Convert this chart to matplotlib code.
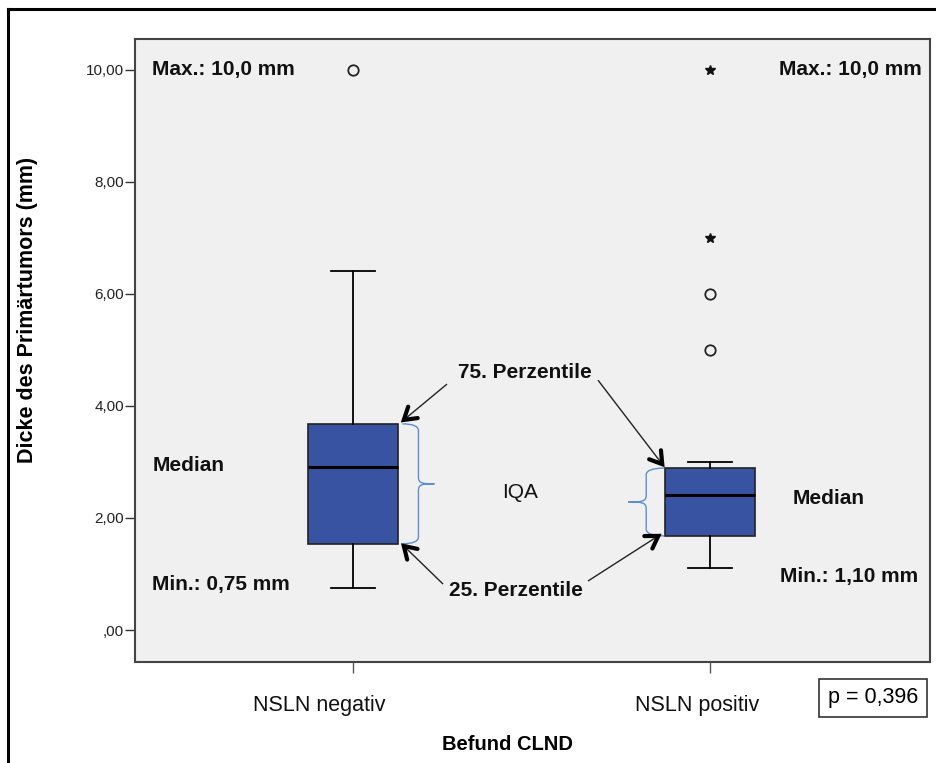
import matplotlib
matplotlib.use("Agg")
import numpy as np
import matplotlib.pyplot as plt
from matplotlib.path import Path
from matplotlib.patches import PathPatch
from matplotlib.lines import Line2D
from matplotlib.transforms import ScaledTranslation

plt.rcParams['font.family'] = ['Liberation Sans', 'DejaVu Sans']

# ---------------- data ----------------
categories = ["NSLN negativ", "NSLN positiv"]
q1 = [1.54, 1.68]
median = [2.91, 2.41]
q3 = [3.68, 2.89]
whisker_low = [0.75, 1.10]
whisker_high = [6.41, 3.00]
outliers_circle = [[10.0], [6.0, 5.0]]
outliers_star = [[], [10.0, 7.0]]
yticks = [0, 2, 4, 6, 8, 10]
ytick_labels = [",00", "2,00", "4,00", "6,00", "8,00", "10,00"]
p_text = "p = 0,396"

BOX_COLOR = "#3953a3"
BG = "#f0f0f0"

fig = plt.figure(figsize=(9.37, 7.63), dpi=100)
ax = fig.add_axes([135 / 937, 1 - 662 / 763, 795 / 937, 623 / 763])
ax.set_facecolor(BG)

positions = [0, 1]
width = 0.252
stats = []
for i in range(2):
    stats.append(dict(med=median[i], q1=q1[i], q3=q3[i],
                      whislo=whisker_low[i], whishi=whisker_high[i],
                      fliers=[], label=categories[i]))
ax.bxp(stats, positions=positions, widths=width, capwidths=0.123,
       patch_artist=True, showfliers=False,
       boxprops=dict(facecolor=BOX_COLOR, edgecolor="#222222", linewidth=1.2),
       medianprops=dict(color="black", linewidth=2.2),
       whiskerprops=dict(color="black", linewidth=1.3),
       capprops=dict(color="black", linewidth=1.3))

for i, pos in enumerate(positions):
    if outliers_circle[i]:
        ax.plot([pos] * len(outliers_circle[i]), outliers_circle[i], 'o',
                mfc='none', mec='#222222', mew=1.3, ms=7.5, zorder=5)
    if outliers_star[i]:
        ax.plot([pos] * len(outliers_star[i]), outliers_star[i], '*',
                color='#111111', ms=7, zorder=5)

ax.set_xlim(-0.611, 1.616)
ax.set_ylim(-0.571, 10.55)
ax.set_yticks(yticks)
ax.set_yticklabels(ytick_labels, fontsize=11, color="#222222")
ax.set_xticks(positions)
ax.set_xticklabels(categories, fontsize=15.5, color="#111111")
ax.tick_params(axis='y', length=7, width=1, color="#333333", pad=1)
ax.tick_params(axis='x', length=8, width=1, color="#555555", pad=16, direction='out')
x_label_shift_px = [-34, -13]
for lab, dx in zip(ax.get_xticklabels(), x_label_shift_px):
    lab.set_transform(lab.get_transform() + ScaledTranslation(dx / 100, 0, fig.dpi_scale_trans))
for s in ax.spines.values():
    s.set_color("#444444")
    s.set_linewidth(1.5)

fig.text(28 / 937, 1 - 310 / 763, "Dicke des Primärtumors (mm)", rotation=90,
         fontsize=15.5, fontweight='bold', ha='center', va='center')
fig.text(508 / 937, 1 - 745 / 763, "Befund CLND", fontsize=14.5,
         fontweight='bold', ha='center', va='center')

# text annotations
bold = dict(fontsize=15, fontweight='bold', va='center', color='#111111')
ax.text(-0.563, 10.0, "Max.: 10,0 mm", ha='left', **bold)
ax.text(1.594, 10.0, "Max.: 10,0 mm", ha='right', **bold)
ax.text(-0.563, 2.93, "Median", ha='left', **bold)
ax.text(-0.563, 0.82, "Min.: 0,75 mm", ha='left', **bold)
ax.text(1.230, 2.34, "Median", ha='left', **bold)
ax.text(1.196, 0.95, "Min.: 1,10 mm", ha='left', **bold)
ax.text(0.482, 4.59, "75. Perzentile", ha='center', **bold)
ax.text(0.457, 0.71, "25. Perzentile", ha='center', **bold)
ax.text(0.468, 2.46, "IQA", ha='center', va='center', fontsize=15, color='#111111')

# arrows: thin shaft + bold chevron head
def arrow(tail, head, arm=14, spread=np.deg2rad(32)):
    ax.plot([tail[0], head[0]], [tail[1], head[1]], color='#222222', lw=1.0,
            zorder=6, solid_capstyle='butt')
    T = ax.transData
    p_t = T.transform(tail)
    p_h = T.transform(head)
    v = p_t - p_h
    v = v / np.hypot(*v)
    pts = []
    for ang in (spread, -spread):
        c, s = np.cos(ang), np.sin(ang)
        r = np.array([c * v[0] - s * v[1], s * v[0] + c * v[1]])
        pts.append(p_h + arm * r)
    disp = np.array([pts[0], p_h, pts[1]])
    dat = T.inverted().transform(disp)
    ax.plot(dat[:, 0], dat[:, 1], color='black', lw=3.0, zorder=7,
            solid_joinstyle='miter', solid_capstyle='round')

left0 = positions[0] + width / 2
right1 = positions[1] - width / 2
arrow((0.263, 4.39), (left0 + 0.016, q3[0] + 0.07))
arrow((0.686, 4.46), (right1 - 0.008, q3[1] + 0.07))
arrow((0.252, 0.82), (left0 + 0.016, q1[0] - 0.04))
arrow((0.658, 0.875), (right1 - 0.019, q1[1] + 0.0))

# curly braces
def brace(x0, ylo, yhi, direction, depth, tip):
    d = depth * direction
    t = tip * direction
    mid = (ylo + yhi) / 2
    r = 0.12
    verts = [
        (x0, yhi), (x0 + d, yhi), (x0 + d, yhi - r),
        (x0 + d, mid + r),
        (x0 + d, mid), (x0 + d + t * 0.3, mid), (x0 + d + t, mid),
        (x0 + d + t * 0.3, mid), (x0 + d, mid), (x0 + d, mid - r),
        (x0 + d, ylo + r),
        (x0 + d, ylo), (x0, ylo), (x0, ylo),
    ]
    codes = [Path.MOVETO, Path.CURVE3, Path.CURVE3,
             Path.LINETO,
             Path.CURVE4, Path.CURVE4, Path.CURVE4,
             Path.CURVE4, Path.CURVE4, Path.CURVE4,
             Path.LINETO,
             Path.CURVE3, Path.CURVE3, Path.LINETO]
    ax.add_patch(PathPatch(Path(verts, codes), fill=False,
                           edgecolor='#5b8fd0', lw=1.0, zorder=4))

brace(left0 + 0.012, q1[0], q3[0], +1, 0.045, 0.045)
brace(right1 - 0.003, q1[1], q3[1], -1, 0.05, 0.05)

# p-value box
fig.text(873 / 937, 1 - 698 / 763, p_text, fontsize=15.5, ha='center',
         va='center',
         bbox=dict(boxstyle='square,pad=0.4', facecolor='white',
                   edgecolor='#333333', lw=1.2))

# outer frame (partial)
fig.add_artist(Line2D([8 / 937, 8 / 937], [0, 1 - 9 / 763],
                      transform=fig.transFigure, color='black', lw=2.2))
fig.add_artist(Line2D([8 / 937, 1], [1 - 9 / 763, 1 - 9 / 763],
                      transform=fig.transFigure, color='black', lw=2.2))

fig.savefig("out.png", dpi=100)
